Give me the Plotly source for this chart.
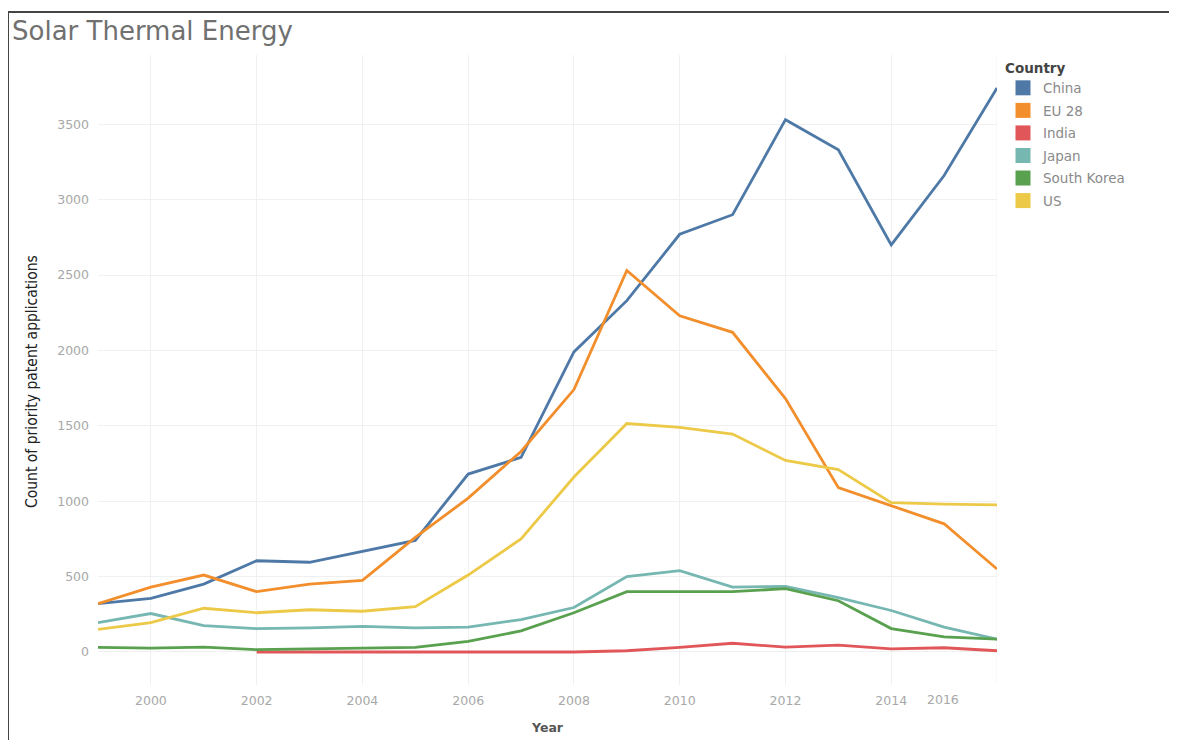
import plotly.graph_objects as go

years = list(range(1999, 2017))

china = [320, 355, 450, 605, 595, 670, 740, 1180, 1290, 1990, 2330, 2770, 2900, 3530, 3330, 2700, 3160, 3740]
eu28 = [320, 430, 510, 400, 450, 475, 760, 1020, 1330, 1740, 2530, 2230, 2120, 1680, 1090, 970, 850, 550]
india_years = list(range(2002, 2017))
india = [0, 0, 0, 0, 0, 0, 0, 8, 30, 58, 32, 45, 20, 28, 8]
japan = [195, 255, 175, 155, 160, 170, 160, 165, 215, 295, 500, 540, 430, 435, 360, 275, 165, 85]
south_korea = [30, 25, 32, 15, 20, 25, 30, 70, 140, 260, 400, 400, 400, 420, 340, 155, 100, 85]
us = [150, 195, 290, 260, 280, 270, 300, 510, 750, 1160, 1515, 1490, 1445, 1270, 1210, 990, 980, 975]

series = [
    ("China", years, china, "#4e79a7"),
    ("EU 28", years, eu28, "#f28e2b"),
    ("India", india_years, india, "#e15759"),
    ("Japan", years, japan, "#76b7b2"),
    ("South Korea", years, south_korea, "#59a14f"),
    ("US", years, us, "#edc948"),
]

x_ticks = [2000, 2002, 2004, 2006, 2008, 2010, 2012, 2014]
y_ticks = [0, 500, 1000, 1500, 2000, 2500, 3000, 3500]

fig = go.Figure()
for name, xs, ys, color in series:
    fig.add_trace(go.Scatter(
        x=xs, y=ys, mode="lines", name=name,
        line=dict(color=color, width=2.8),
        showlegend=False, legendgroup=name,
    ))
for name, xs, ys, color in series:
    fig.add_trace(go.Scatter(
        x=[None], y=[None], mode="markers", name=name,
        marker=dict(symbol="square", size=15, color=color),
        showlegend=True, legendgroup=name,
    ))

# page has an 8px body margin: work in page pixels, convert to figure pixels
OFF = 8
W, H = 1177 - OFF, 740 - OFF
L, R, T, B = 98 - OFF, 997 - OFF, 55 - OFF, 685 - OFF

def px(xp):
    return (xp - OFF - L) / (R - L)

def py(yp):
    return (B - (yp - OFF)) / (B - T)

tick_font = dict(family="DejaVu Sans", size=12.5, color="#a8a8a8")

fig.update_layout(
    width=W, height=H,
    margin=dict(l=L, r=W - R, t=T, b=H - B, autoexpand=False),
    paper_bgcolor="white", plot_bgcolor="white",
    title=dict(text="Solar Thermal Energy", x=(12 - OFF) / W, xref="container", xanchor="left",
               y=1 - (31 - OFF) / H, yref="container", yanchor="middle",
               font=dict(family="DejaVu Sans", size=26, color="#707070")),
    xaxis=dict(range=[1999, 2016], tickvals=x_ticks, ticktext=[str(v) for v in x_ticks],
               showgrid=True, gridcolor="#f0f0f0", gridwidth=1, zeroline=False,
               showline=False, tickfont=tick_font, ticks="", ticklabelstandoff=6,
               title=dict(text="<b>Year</b>", font=dict(family="DejaVu Sans", size=12.5, color="#555"),
                          standoff=16)),
    yaxis=dict(range=[-219, 3959], tickvals=y_ticks, showgrid=True, gridcolor="#f0f0f0",
               gridwidth=1, zeroline=False, showline=False, tickfont=tick_font, ticks="",
               ticklabelstandoff=8),
    legend=dict(title=dict(text="<b>Country</b>", font=dict(family="DejaVu Sans", size=13.5, color="#444")),
                x=px(1003), y=py(55), xanchor="left", yanchor="top",
                font=dict(family="DejaVu Sans", size=13.5, color="#8a8a8a"),
                tracegroupgap=2, itemwidth=30, bgcolor="rgba(0,0,0,0)"),
    annotations=[
        dict(text="Count of priority patent applications", textangle=-90,
             x=px(32), y=py(382), xref="paper", yref="paper", showarrow=False,
             xanchor="center", yanchor="middle",
             font=dict(family="Liberation Sans Narrow, DejaVu Sans Condensed", size=15.5, color="#222")),
        dict(text="2016", x=2016, y=0, xref="x", yref="paper", showarrow=False,
             xanchor="right", yanchor="top", xshift=-36, yshift=-5,
             font=tick_font),
    ],
    shapes=[
        dict(type="line", x0=2016, x1=2016, y0=0, y1=1, xref="x", yref="paper",
             line=dict(color="#f0f0f0", width=1), layer="below"),
        dict(type="rect", x0=px(8), x1=px(1175), y0=py(745), y1=py(12),
             xref="paper", yref="paper", line=dict(color="#444", width=2)),
    ],
)

fig.write_html("out.html")
